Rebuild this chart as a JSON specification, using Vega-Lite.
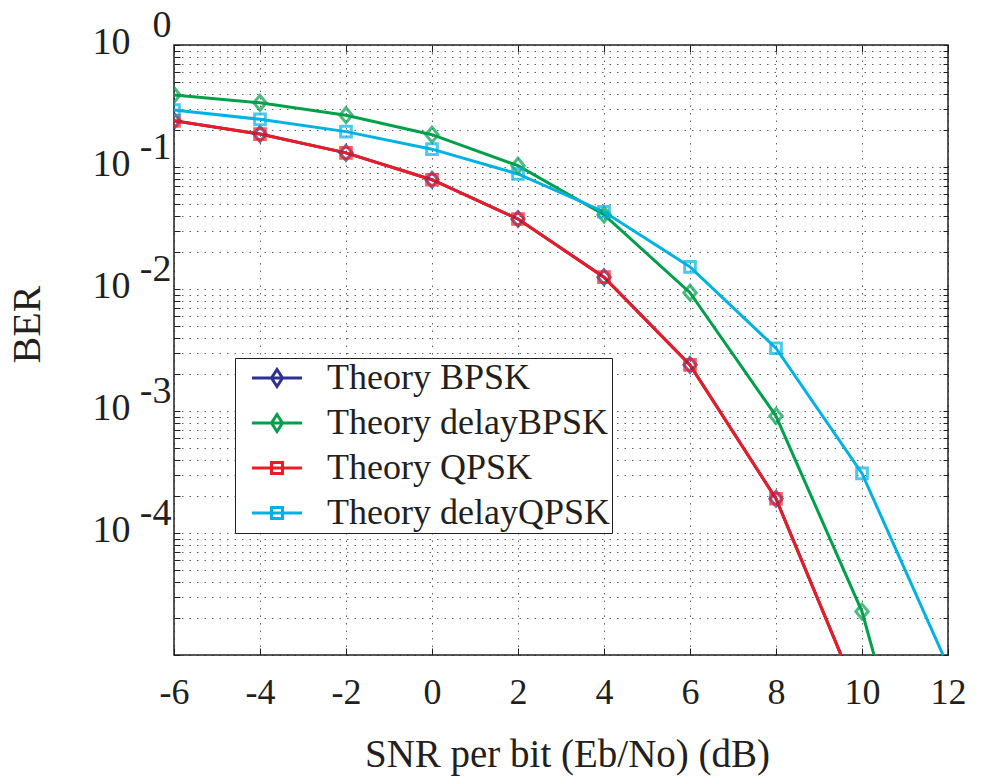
{
  "$schema": "https://vega.github.io/schema/vega-lite/v6.json",
  "width": 774,
  "height": 610,
  "autosize": "none",
  "padding": {"left": 174, "top": 45, "right": 36, "bottom": 121},
  "background": "white",
  "config": {
    "view": {"stroke": "#231f20", "strokeWidth": 1.5},
    "font": "Liberation Serif",
    "axis": {
      "labelFont": "Liberation Serif",
      "titleFont": "Liberation Serif",
      "labelColor": "#231f20",
      "titleColor": "#231f20",
      "titleFontWeight": "normal",
      "domain": false,
      "tickColor": "#231f20",
      "tickWidth": 1,
      "gridColor": "#231f20",
      "gridDash": [1.5, 6],
      "gridOpacity": 0.7,
      "gridWidth": 1,
      "labelFlush": false,
      "labelOverlap": false,
      "labelBound": false
    },
    "legend": {
      "fillColor": "white",
      "strokeColor": "#231f20",
      "padding": 2,
      "labelFont": "Liberation Serif",
      "labelFontSize": 36,
      "labelColor": "#231f20",
      "labelLimit": 0,
      "symbolSize": 400,
      "symbolStrokeWidth": 3,
      "symbolOpacity": 1,
      "symbolOffset": 22,
      "labelOffset": 32,
      "rowPadding": 9
    }
  },
  "data": {
    "values": [
      {"series": "Theory BPSK", "snr": -6, "ber": 0.2391},
      {"series": "Theory BPSK", "snr": -4, "ber": 0.1861},
      {"series": "Theory BPSK", "snr": -2, "ber": 0.1306},
      {"series": "Theory BPSK", "snr": 0, "ber": 0.0786},
      {"series": "Theory BPSK", "snr": 2, "ber": 0.0375},
      {"series": "Theory BPSK", "snr": 4, "ber": 0.0125},
      {"series": "Theory BPSK", "snr": 6, "ber": 0.00239},
      {"series": "Theory BPSK", "snr": 8, "ber": 0.000191},
      {"series": "Theory BPSK", "snr": 10, "ber": 0.00000387},
      {"series": "Theory delayBPSK", "snr": -6, "ber": 0.389},
      {"series": "Theory delayBPSK", "snr": -4, "ber": 0.3358},
      {"series": "Theory delayBPSK", "snr": -2, "ber": 0.266},
      {"series": "Theory delayBPSK", "snr": 0, "ber": 0.184},
      {"series": "Theory delayBPSK", "snr": 2, "ber": 0.1025},
      {"series": "Theory delayBPSK", "snr": 4, "ber": 0.0406},
      {"series": "Theory delayBPSK", "snr": 6, "ber": 0.00933},
      {"series": "Theory delayBPSK", "snr": 8, "ber": 0.000909},
      {"series": "Theory delayBPSK", "snr": 10, "ber": 0.0000227},
      {"series": "Theory delayBPSK", "snr": 12, "ber": 0.000000065},
      {"series": "Theory QPSK", "snr": -6, "ber": 0.2391},
      {"series": "Theory QPSK", "snr": -4, "ber": 0.1861},
      {"series": "Theory QPSK", "snr": -2, "ber": 0.1306},
      {"series": "Theory QPSK", "snr": 0, "ber": 0.0786},
      {"series": "Theory QPSK", "snr": 2, "ber": 0.0375},
      {"series": "Theory QPSK", "snr": 4, "ber": 0.0125},
      {"series": "Theory QPSK", "snr": 6, "ber": 0.00239},
      {"series": "Theory QPSK", "snr": 8, "ber": 0.000191},
      {"series": "Theory QPSK", "snr": 10, "ber": 0.00000387},
      {"series": "Theory delayQPSK", "snr": -6, "ber": 0.293},
      {"series": "Theory delayQPSK", "snr": -4, "ber": 0.246},
      {"series": "Theory delayQPSK", "snr": -2, "ber": 0.195},
      {"series": "Theory delayQPSK", "snr": 0, "ber": 0.14},
      {"series": "Theory delayQPSK", "snr": 2, "ber": 0.0877},
      {"series": "Theory delayQPSK", "snr": 4, "ber": 0.043},
      {"series": "Theory delayQPSK", "snr": 6, "ber": 0.0152},
      {"series": "Theory delayQPSK", "snr": 8, "ber": 0.00327},
      {"series": "Theory delayQPSK", "snr": 10, "ber": 0.000308},
      {"series": "Theory delayQPSK", "snr": 12, "ber": 0.0000081}
    ]
  },
  "layer": [
    {
      "mark": {"type": "line", "strokeWidth": 3, "clip": true},
      "encoding": {
        "x": {
          "field": "snr", "type": "quantitative",
          "scale": {"domain": [-6, 12], "nice": false, "zero": false},
          "axis": {
            "orient": "bottom",
            "values": [-6, -4, -2, 0, 2, 4, 6, 8, 10, 12],
            "labelExpr": "'' + datum.value",
            "title": "SNR per bit (Eb/No) (dB)",
            "labelFontSize": 36,
            "labelBaseline": "alphabetic",
            "labelPadding": 55,
            "tickSize": -7,
            "grid": true,
            "titleFontSize": 39,
            "titleX": 393,
            "titleY": 111,
            "titleAlign": "center",
            "titleBaseline": "alphabetic"
          }
        },
        "y": {
          "field": "ber", "type": "quantitative",
          "scale": {"type": "log", "domain": [0.00001, 1], "nice": false},
          "axis": {
            "orient": "left",
            "values": [0.00001, 0.00002, 0.00003, 0.00004, 0.00005, 0.00006, 0.00007, 0.00008, 0.00009,
                       0.0001, 0.0002, 0.0003, 0.0004, 0.0005, 0.0006, 0.0007, 0.0008, 0.0009,
                       0.001, 0.002, 0.003, 0.004, 0.005, 0.006, 0.007, 0.008, 0.009,
                       0.01, 0.02, 0.03, 0.04, 0.05, 0.06, 0.07, 0.08, 0.09,
                       0.1, 0.2, 0.3, 0.4, 0.5, 0.6, 0.7, 0.8, 0.9, 1],
            "labelExpr": "datum.value >= 0.00009 && abs(log(datum.value)/LN10 - round(log(datum.value)/LN10)) < 0.01 ? '10' : ''",
            "labelFontSize": 38,
            "labelBaseline": "alphabetic",
            "labelOffset": 8,
            "labelPadding": 50,
            "tickSize": -6,
            "grid": true,
            "title": "BER",
            "titleFontSize": 40,
            "titleAngle": -90,
            "titleX": -135,
            "titleY": 279,
            "titleAlign": "center",
            "titleBaseline": "alphabetic"
          }
        },
        "color": {
          "field": "series", "type": "nominal",
          "scale": {
            "domain": ["Theory BPSK", "Theory delayBPSK", "Theory QPSK", "Theory delayQPSK"],
            "range": ["#2e3192", "#00a04b", "#ec1c24", "#00b2e3"]
          },
          "legend": {"orient": "none", "legendX": 61, "legendY": 313, "title": null}
        }
      }
    },
    {
      "transform": [{"filter": "datum.series == 'Theory BPSK' || datum.series == 'Theory delayBPSK'"}],
      "mark": {"type": "point", "filled": false, "strokeWidth": 3, "size": 169, "clip": true, "shape": "M0,-1.15L0.95,0L0,1.15L-0.95,0Z"},
      "encoding": {
        "x": {"field": "snr", "type": "quantitative", "axis": null},
        "y": {
          "field": "ber", "type": "quantitative",
          "axis": {
            "orient": "left",
            "values": [1, 0.1, 0.01, 0.001, 0.0001],
            "labelExpr": "'' + round(log(datum.value)/LN10)",
            "labelFontSize": 38,
            "labelBaseline": "alphabetic",
            "labelOffset": -9,
            "labelPadding": 3,
            "ticks": false,
            "grid": false,
            "title": null
          }
        },
        "color": {"field": "series", "type": "nominal", "legend": {"orient": "none", "legendX": 61, "legendY": 313, "title": null}}
      }
    },
    {
      "transform": [{"filter": "datum.series == 'Theory QPSK' || datum.series == 'Theory delayQPSK'"}],
      "mark": {"type": "point", "filled": false, "strokeWidth": 3, "size": 169, "clip": true, "shape": "M-0.82,-0.82L0.82,-0.82L0.82,0.82L-0.82,0.82Z"},
      "encoding": {
        "x": {"field": "snr", "type": "quantitative", "axis": null},
        "y": {"field": "ber", "type": "quantitative", "axis": null},
        "color": {"field": "series", "type": "nominal", "legend": {"orient": "none", "legendX": 61, "legendY": 313, "title": null}}
      }
    },
    {
      "mark": {"type": "point", "opacity": 0, "filled": false, "clip": true},
      "encoding": {
        "x": {
          "field": "snr", "type": "quantitative",
          "axis": {"orient": "top", "values": [-6, -4, -2, 0, 2, 4, 6, 8, 10, 12], "labels": false, "tickSize": -7, "grid": false, "title": null}
        },
        "y": {
          "field": "ber", "type": "quantitative",
          "axis": {
            "orient": "right",
            "values": [0.00001, 0.00002, 0.00003, 0.00004, 0.00005, 0.00006, 0.00007, 0.00008, 0.00009,
                       0.0001, 0.0002, 0.0003, 0.0004, 0.0005, 0.0006, 0.0007, 0.0008, 0.0009,
                       0.001, 0.002, 0.003, 0.004, 0.005, 0.006, 0.007, 0.008, 0.009,
                       0.01, 0.02, 0.03, 0.04, 0.05, 0.06, 0.07, 0.08, 0.09,
                       0.1, 0.2, 0.3, 0.4, 0.5, 0.6, 0.7, 0.8, 0.9, 1],
            "labels": false, "tickSize": -5, "grid": false, "title": null
          }
        },
        "color": {"field": "series", "type": "nominal", "legend": {"orient": "none", "legendX": 61, "legendY": 313, "title": null}},
        "shape": {
          "field": "series", "type": "nominal",
          "scale": {
            "domain": ["Theory BPSK", "Theory delayBPSK", "Theory QPSK", "Theory delayQPSK"],
            "range": ["M-2.5,0L2.5,0M0,-0.85L0.55,0L0,0.85L-0.55,0Z", "M-2.5,0L2.5,0M0,-0.85L0.55,0L0,0.85L-0.55,0Z", "M-2.5,0L2.5,0M-0.55,-0.55L0.55,-0.55L0.55,0.55L-0.55,0.55Z", "M-2.5,0L2.5,0M-0.55,-0.55L0.55,-0.55L0.55,0.55L-0.55,0.55Z"]
          },
          "legend": {"orient": "none", "legendX": 61, "legendY": 313, "title": null}
        }
      }
    }
  ],
  "resolve": {"axis": {"x": "independent", "y": "independent"}}
}
